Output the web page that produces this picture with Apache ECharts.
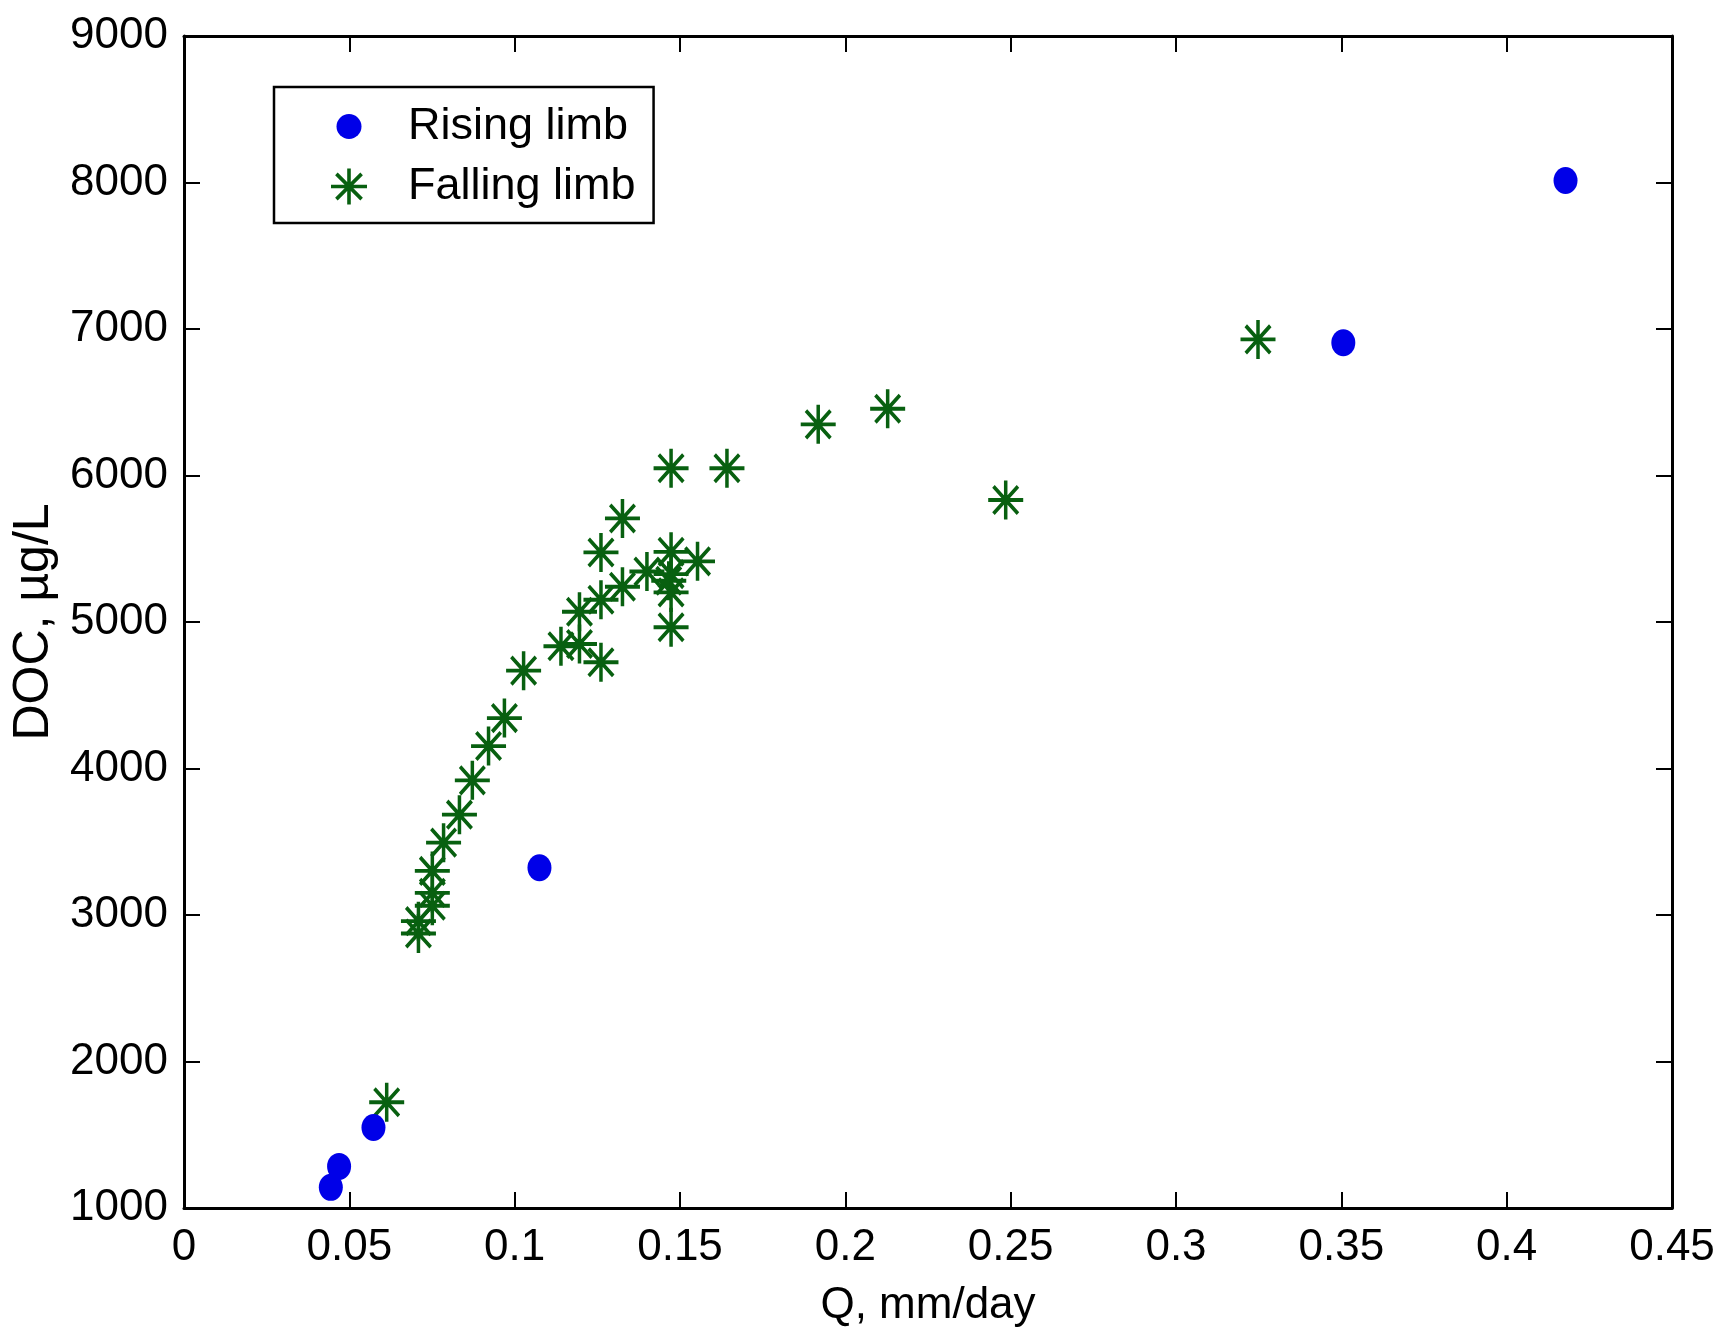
<!DOCTYPE html>
<html>
<head>
<meta charset="utf-8">
<script src="https://cdn.jsdelivr.net/npm/echarts@6/dist/echarts.min.js"></script>
<style>
html,body{margin:0;padding:0;background:#fff;}
#chart{width:1719px;height:1333px;}
</style>
</head>
<body>
<div id="chart"></div>
<script>
// ---- data ----
const seriesNames = ['Rising limb', 'Falling limb'];
const xAxisName = 'Q, mm/day';
const yAxisName = 'DOC, \u00b5g/L';

const risingQ   = [0.0444, 0.0469, 0.0573, 0.1075, 0.3506, 0.4178];
const risingDOC = [1141, 1284, 1550, 3322, 6906, 8014];

const fallingQ = [0.0613, 0.0709, 0.0709, 0.0751, 0.0751, 0.0751, 0.0785, 0.0833, 0.0872, 0.0921,
                  0.0969, 0.1027, 0.1140, 0.1196, 0.1261, 0.1196, 0.1261, 0.1326, 0.1400, 0.1473,
                  0.1466, 0.1473, 0.1473, 0.1553, 0.1473, 0.1261, 0.1326, 0.1473, 0.1642, 0.1918,
                  0.2128, 0.2485, 0.3248];
const fallingDOC = [1722, 2874, 2958, 3063, 3151, 3301, 3494, 3685, 3919, 4153,
                    4344, 4668, 4834, 4850, 4725, 5070, 5152, 5241, 5345, 5327,
                    5282, 5202, 4964, 5414, 5479, 5475, 5707, 6049, 6049, 6349,
                    6456, 5833, 6929];

const xMin = 0, xMax = 0.45, xStep = 0.05;
const yMin = 1000, yMax = 9000, yStep = 1000;

// ---- styling ----
const FONT = "'Liberation Sans', Arial, Helvetica, sans-serif";
const BLUE = '#0000e8';
const GREEN = '#086010';
const STAR = 'path://M-10 -1 L10 -1 L10 1 L-10 1 Z ' +
             'M-1 -10 L1 -10 L1 10 L-1 10 Z ' +
             'M-6.29 -7.71 L7.71 6.29 L6.29 7.71 L-7.71 -6.29 Z ' +
             'M-7.71 6.29 L6.29 -7.71 L7.71 -6.29 L-6.29 7.71 Z';
const DOT_LEGEND = 'path://M-18 -18 M18 18 M-12.5 0 A12.5 12.5 0 1 0 12.5 0 A12.5 12.5 0 1 0 -12.5 0 Z';

const rising = risingQ.map((q, i) => [q, risingDOC[i]]);
const falling = fallingQ.map((q, i) => [q, fallingDOC[i]]);

const mkLine = () => ({show: true, onZero: false, lineStyle: {color: '#000', width: 3}});
const mkTick = () => ({show: true, inside: true, length: 16, lineStyle: {color: '#000', width: 2}});
const fmtX = v => String(parseFloat(v.toFixed(2)));
const fmtY = v => String(Math.round(v));

const chart = echarts.init(document.getElementById('chart'), null, {renderer: 'canvas'});
chart.setOption({
  backgroundColor: '#fff',
  animation: false,
  grid: {left: 184, right: 47, top: 36, bottom: 123, containLabel: false},
  xAxis: [{
    type: 'value', min: xMin, max: xMax, interval: xStep, position: 'bottom',
    axisLine: mkLine(), axisTick: mkTick(), splitLine: {show: false},
    axisLabel: {color: '#000', fontSize: 44, fontFamily: FONT, margin: 18, formatter: fmtX,
                showMinLabel: true, showMaxLabel: true},
    name: xAxisName, nameLocation: 'middle', nameGap: 76,
    nameTextStyle: {color: '#000', fontSize: 44, fontFamily: FONT}
  }, {
    type: 'value', min: xMin, max: xMax, interval: xStep, position: 'top',
    axisLine: mkLine(), axisTick: mkTick(), splitLine: {show: false}, axisLabel: {show: false}
  }],
  yAxis: [{
    type: 'value', min: yMin, max: yMax, interval: yStep, position: 'left',
    axisLine: mkLine(), axisTick: mkTick(), splitLine: {show: false},
    axisLabel: {color: '#000', fontSize: 44, fontFamily: FONT, margin: 16, formatter: fmtY,
                showMinLabel: true, showMaxLabel: true},
    name: yAxisName, nameLocation: 'middle', nameGap: 112, nameRotate: 90,
    nameTextStyle: {color: '#000', fontSize: 50, fontFamily: FONT}
  }, {
    type: 'value', min: yMin, max: yMax, interval: yStep, position: 'right',
    axisLine: mkLine(), axisTick: mkTick(), splitLine: {show: false}, axisLabel: {show: false}
  }],
  legend: {
    orient: 'vertical', left: 274, top: 87,
    padding: [17, 18, 14, 57],
    itemGap: 15, itemWidth: 36, itemHeight: 36,
    borderColor: '#000', borderWidth: 2.5, backgroundColor: '#fff',
    textStyle: {color: '#000', fontSize: 45, fontFamily: FONT, padding: [0, 0, 0, 36]},
    data: [{name: seriesNames[0], icon: DOT_LEGEND}, {name: seriesNames[1], icon: STAR}]
  },
  series: [{
    name: seriesNames[0], type: 'scatter', data: rising,
    symbol: 'circle', symbolSize: [24, 27],
    itemStyle: {color: BLUE, opacity: 1}, z: 3
  }, {
    name: seriesNames[1], type: 'scatter', data: falling,
    symbol: STAR, symbolSize: [35, 39],
    itemStyle: {color: GREEN, opacity: 1}, z: 2
  }]
});
</script>
</body>
</html>
